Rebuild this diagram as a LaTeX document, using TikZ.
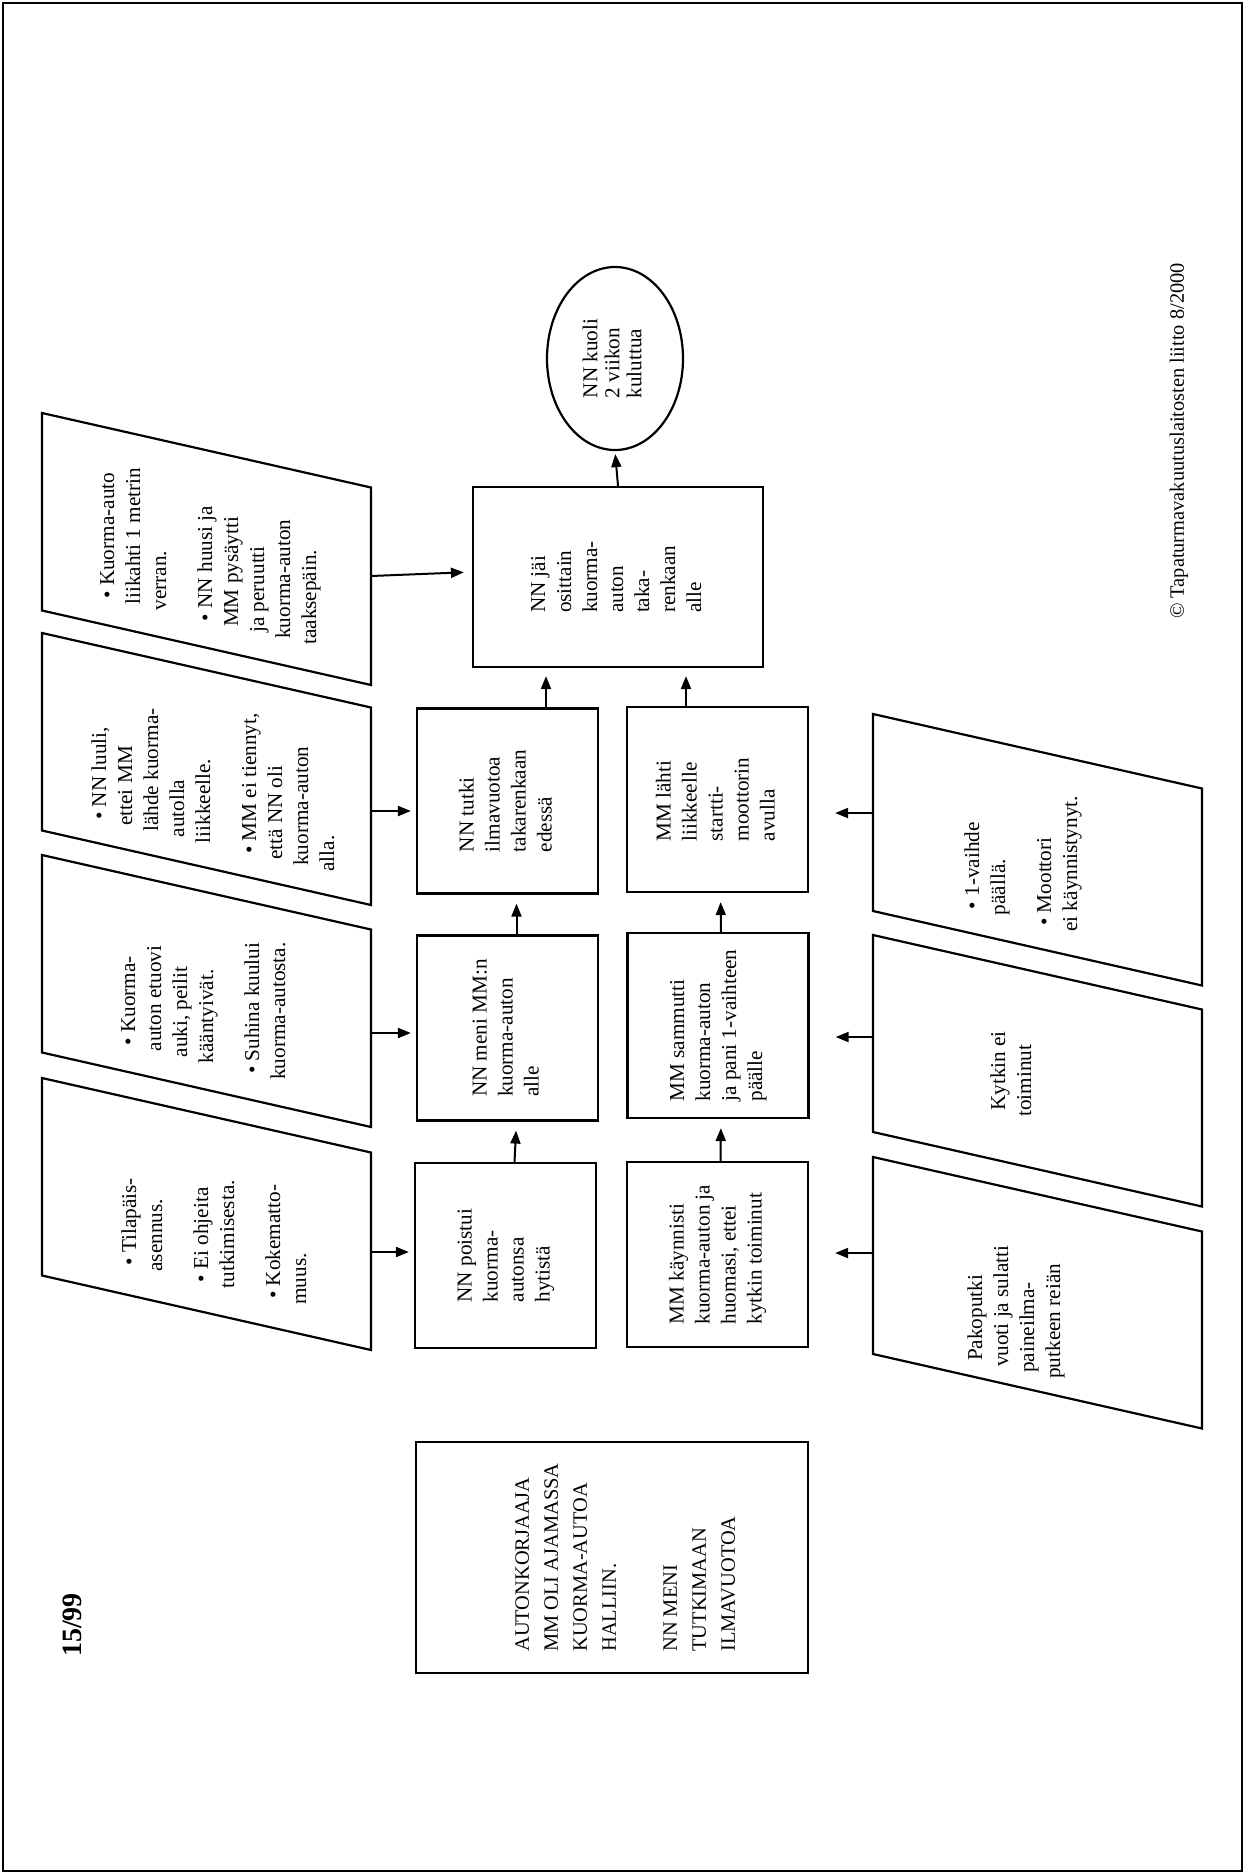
\documentclass[tikz,border=0pt]{standalone}
\usepackage{fontspec}
\setmainfont{Liberation Serif}
\usepackage{graphicx}
\usetikzlibrary{arrows.meta,shapes.geometric}

\newlength{\slnt}
\setlength{\slnt}{2.94pt}
\newcommand{\shft}[1]{\hspace*{#1\slnt}}
\newcommand{\rtext}[1]{\rotatebox{90}{\begin{tabular}{@{}l@{}}#1\end{tabular}}}

\tikzset{bnode/.style = {shape = rectangle,
                         draw,
                         line width = 1.1pt,
                         inner sep = 0pt,
                         minimum width = 90.5pt,
                         minimum height = 92.5pt,
                         font = \fontsize{10.6}{13}\selectfont},
         tnode/.style = {inner sep = 0pt,
                         anchor = south,
                         font = \fontsize{10.6}{13}\selectfont},
         enode/.style = {shape = ellipse,
                         draw,
                         line width = 1.1pt,
                         inner sep = 0pt,
                         minimum width = 68pt,
                         minimum height = 91.5pt,
                         font = \fontsize{10.6}{11}\selectfont}}

\begin{document}
\begin{tikzpicture}[x=0.5pt, y=-0.5pt,
                    arr/.style = {-{Triangle[length=6.5pt,width=5pt]},
                                  line width = 1pt},
                    outl/.style = {line width = 1.1pt}]
	\useasboundingbox (0,0) rectangle (1245,1874);
	\draw[line width=1pt] (3,3) rectangle (1242,1871);

	% cause shapes
	\foreach \y in {413,633,855,1078}
		\draw[outl] (42,\y) -- (371,\y+74.5) -- (371,\y+272) -- (42,\y+197.5) -- cycle;
	\foreach \y in {714,935,1157}
		\draw[outl] (873,\y) -- (1202,\y+74.5) -- (1202,\y+271.5) -- (873,\y+197) -- cycle;

	\node[font=\bfseries\fontsize{14}{16}\selectfont] (num) at (72,1625) {\rotatebox{90}{15/99}};
	\node[font=\fontsize{10.2}{12}\selectfont] (copy) at (1179,441)
		{\rotatebox{90}{© Tapaturmavakuutuslaitosten liitto 8/2000}};

	\node[bnode, minimum width=196pt, minimum height=115.5pt,
	      font=\fontsize{10.2}{14.5}\selectfont] (start) at (612,1557.5)
		{\hspace*{14pt}\rtext{AUTONKORJAAJA\\ MM OLI AJAMASSA\\ KUORMA-AUTOA\\ HALLIIN.\\[16pt]
		NN MENI\\ TUTKIMAAN\\ ILMAVUOTOA}};

	% events
	\node[bnode] (a1) at (505.5,1255.5) {\rtext{NN poistui\\ kuorma-\\ autonsa\\ hytistä}};
	\node[bnode] (a2) at (507.5,1028) {\rtext{NN meni MM:n\\ kuorma-auton\\ alle}};
	\node[bnode] (a3) at (507.5,801) {\rtext{NN tutki\\ ilmavuotoa\\ takarenkaan\\ edessä}};
	\node[bnode] (b1) at (717.5,1254.5) {\rtext{MM käynnisti\\ kuorma-auton ja\\ huomasi, ettei\\ kytkin toiminut}};
	\node[bnode] (b2) at (718,1025.5) {\rtext{MM sammutti\\ kuorma-auton\\ ja pani 1-vaihteen\\ päälle}};
	\node[bnode] (b3) at (717.5,799.5) {\rtext{MM lähti\\ liikkeelle\\ startti-\\ moottorin\\ avulla}};
	\node[bnode, minimum width=145pt, minimum height=90pt] (jai) at (618,577)
		{\rtext{NN jäi\\ osittain\\ kuorma-\\ auton\\ taka-\\ renkaan\\ alle}};
	\node[enode] (dead) at (615,358.5) {\rtext{NN kuoli\\ 2 viikon\\ kuluttua}};

	% texts of the cause shapes
	\node[tnode] (s1) at (216,1305) {\rtext{\shft{6.64}\textbullet\ Tilapäis-\\ \shft{5.64}asennus.\\[10pt]
		\shft{3.82}\textbullet\ Ei ohjeita\\ \shft{2.82}tutkimisesta.\\[10pt]
		\shft{1}\textbullet\ Kokematto-\\ muus.}};
	\node[tnode] (s2) at (205,1080) {\rtext{\shft{5.82}\textbullet\ Kuorma-\\ \shft{4.82}auton etuovi\\
		\shft{3.82}auki, peilit\\ \shft{2.82}kääntyivät.\\[10pt]
		\shft{1}\textbullet\ Suhina kuului\\ kuorma-autosta.}};
	\node[tnode] (s3) at (215,872) {\rtext{\shft{8.82}\textbullet\ NN luuli,\\ \shft{7.82}ettei MM\\
		\shft{6.82}lähde kuorma-\\ \shft{5.82}autolla\\ \shft{4.82}liikkeelle.\\[10pt]
		\shft{3}\textbullet\ MM ei tiennyt,\\ \shft{2}että NN oli\\ \shft{1}kuorma-auton\\ alla.}};
	\node[tnode] (s4) at (210,645) {\rtext{\shft{7.82}\textbullet\ Kuorma-auto\\ \shft{6.82}liikahti 1 metrin\\
		\shft{5.82}verran.\\[10pt]
		\shft{4}\textbullet\ NN huusi ja\\ \shft{3}MM pysäytti\\ \shft{2}ja peruutti\\
		\shft{1}kuorma-auton\\ taaksepäin.}};
	\node[tnode] (r1) at (1016,1379) {\rtext{\shft{3}Pakoputki\\ \shft{2}vuoti ja sulatti\\
		\shft{1}paineilma-\\ putkeen reiän}};
	\node[tnode] (r2) at (1013,1117) {\rtext{\shft{1}Kytkin ei\\ toiminut}};
	\node[tnode] (r3) at (1023,932) {\rtext{\shft{3.82}\textbullet\ 1-vaihde\\ \shft{2.82}päällä.\\[10pt]
		\shft{1}\textbullet\ Moottori\\ ei käynnistynyt.}};

	% edge points of the cause shapes
	\coordinate (c1) at (371,1252);
	\coordinate (c2) at (371,1033);
	\coordinate (c3) at (371,811);
	\coordinate (c4) at (371,576);
	\coordinate (d1) at (873,1253);
	\coordinate (d2) at (873,1037);
	\coordinate (d3) at (873,813);
	\coordinate (j1) at ([xshift=-36pt]jai.south);
	\coordinate (j2) at ([xshift=34pt]jai.south);

	\draw[arr, shorten >=2.5pt] (c1) -- (a1.west |- c1);
	\draw[arr, shorten >=2.5pt] (c2) -- (a2.west |- c2);
	\draw[arr, shorten >=2.5pt] (c3) -- (a3.west |- c3);
	\draw[arr, shorten >=4pt] (c4) -- ([yshift=2.5pt]jai.west);
	\draw[arr, shorten >=13pt] (d1) -- (b1.east |- d1);
	\draw[arr, shorten >=13pt] (d2) -- (b2.east |- d2);
	\draw[arr, shorten >=13pt] (d3) -- (b3.east |- d3);
	\draw[arr, shorten >=4.5pt] ([xshift=4.5pt]a1.north) -- ([xshift=4.5pt]a2.south);
	\draw[arr, shorten >=4.5pt] ([xshift=4.5pt]a2.north) -- ([xshift=4.5pt]a3.south);
	\draw[arr, shorten >=4.5pt] ([xshift=1.5pt]b1.north) -- ([xshift=1.5pt]b2.south);
	\draw[arr, shorten >=4.5pt] ([xshift=1.5pt]b2.north) -- ([xshift=1.5pt]b3.south);
	\draw[arr, shorten >=4pt] (j1 |- a3.north) -- (j1);
	\draw[arr, shorten >=4pt] (j2 |- b3.north) -- (j2);
	\draw[arr, shorten >=1.5pt] (jai.north) -- (dead.south);
\end{tikzpicture}
\end{document}
